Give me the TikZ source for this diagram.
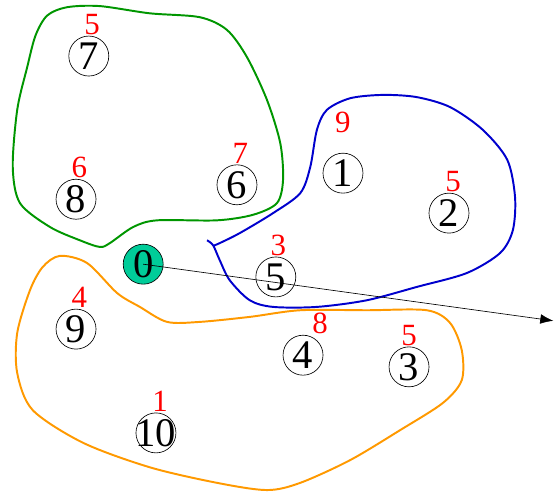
\documentclass[tikz,border=0pt]{standalone}
\usepackage{fontspec}
\setmainfont{Liberation Serif}
\usepackage{tikz,tkz-graph}
\usetikzlibrary{arrows.meta}
\definecolor{tealFill}{RGB}{0,204,153}
\definecolor{clusterGreen}{RGB}{0,150,0}
\definecolor{clusterBlue}{RGB}{0,0,205}
\definecolor{clusterOrange}{RGB}{255,153,0}
\tikzstyle{labeledNode}=[shape = circle, minimum size = 24.6pt, inner sep = 0pt, draw, font = \fontsize{25}{25}\selectfont]
\tikzstyle{weightStyle}=[anchor = base, inner sep = 0pt, text = red, font = \fontsize{19}{19}\selectfont]

\begin{document}
\begin{tikzpicture}[scale = 12]
\tikzstyle{VertexStyle} = []
\tikzstyle{EdgeStyle} = []
\tikzstyle{depotStyle}=[labeledNode, fill = tealFill]
\tikzstyle{clusterLine}=[line width = 1.2pt]
\useasboundingbox (0,0) rectangle (1,0.892);
% clusters
\draw[clusterLine, clusterGreen] plot[smooth cycle] coordinates {(0.085,0.864) (0.121,0.879) (0.180,0.881) (0.270,0.868) (0.360,0.861) (0.409,0.838) (0.445,0.789) (0.481,0.712) (0.505,0.634) (0.510,0.568) (0.499,0.526) (0.456,0.505) (0.391,0.495) (0.283,0.495) (0.240,0.483) (0.198,0.454) (0.180,0.447) (0.144,0.459) (0.090,0.483) (0.036,0.526) (0.023,0.591) (0.031,0.694) (0.049,0.771) (0.064,0.828)};
\draw[clusterLine, clusterBlue] plot[smooth] coordinates {(0.373,0.459) (0.384,0.450) (0.396,0.423) (0.414,0.387) (0.450,0.351) (0.492,0.339) (0.571,0.339) (0.661,0.351) (0.751,0.375) (0.841,0.400) (0.901,0.436) (0.924,0.477) (0.928,0.537) (0.914,0.604) (0.870,0.658) (0.811,0.699) (0.751,0.717) (0.690,0.721) (0.631,0.715) (0.589,0.694) (0.571,0.658) (0.559,0.591) (0.541,0.544) (0.492,0.508) (0.432,0.472) (0.396,0.454) (0.384,0.449)};
\draw[clusterLine, clusterOrange] plot[smooth cycle] coordinates {(0.108,0.431) (0.157,0.418) (0.211,0.364) (0.252,0.339) (0.301,0.312) (0.360,0.312) (0.450,0.321) (0.541,0.333) (0.661,0.333) (0.769,0.333) (0.811,0.310) (0.832,0.261) (0.832,0.207) (0.798,0.166) (0.721,0.117) (0.631,0.063) (0.541,0.022) (0.481,0.009) (0.391,0.022) (0.270,0.050) (0.150,0.094) (0.059,0.153) (0.031,0.220) (0.031,0.292) (0.054,0.369) (0.077,0.411)};
% customers
\Vertex[style = depotStyle, x = 0.258, y = 0.416, L = 0]{v0}
\Vertex[style = labeledNode, x = 0.618, y = 0.580, L = 1]{v1}
\Vertex[style = labeledNode, x = 0.809, y = 0.508, L = 2]{v2}
\Vertex[style = labeledNode, x = 0.737, y = 0.231, L = 3]{v3}
\Vertex[style = labeledNode, x = 0.546, y = 0.252, L = 4]{v4}
\Vertex[style = labeledNode, x = 0.497, y = 0.393, L = 5]{v5}
\Vertex[style = labeledNode, x = 0.427, y = 0.559, L = 6]{v6}
\Vertex[style = labeledNode, x = 0.160, y = 0.791, L = 7]{v7}
\Vertex[style = labeledNode, x = 0.137, y = 0.533, L = 8]{v8}
\Vertex[style = labeledNode, x = 0.137, y = 0.299, L = 9]{v9}
\Vertex[style = labeledNode, x = 0.281, y = 0.112, L = {\makebox[0pt]{10}}]{v10}
% demands
\node[weightStyle, yshift = 13pt] (w1) at (v1.north) {9};
\node[weightStyle, xshift = 2.5pt, yshift = 1pt] (w2) at (v2.north) {5};
\node[weightStyle, yshift = 1pt] (w3) at (v3.north) {5};
\node[weightStyle, xshift = 10.5pt, yshift = 1pt] (w4) at (v4.north) {8};
\node[weightStyle, xshift = 1.5pt, yshift = 1pt] (w5) at (v5.north) {3};
\node[weightStyle, xshift = 2pt, yshift = 1pt] (w6) at (v6.north) {7};
\node[weightStyle, xshift = 2pt, yshift = 1pt] (w7) at (v7.north) {5};
\node[weightStyle, xshift = 2pt, yshift = 1pt] (w8) at (v8.north) {6};
\node[weightStyle, xshift = 2pt, yshift = 1pt] (w9) at (v9.north) {4};
\node[weightStyle, xshift = 2.5pt, yshift = 1pt] (w10) at (v10.north) {1};
% direction
\coordinate (tip) at (0.997,0.314);
\draw[-{Latex[length = 8pt, width = 6pt]}] (v0.center) -- (tip);
\end{tikzpicture}
\end{document}
